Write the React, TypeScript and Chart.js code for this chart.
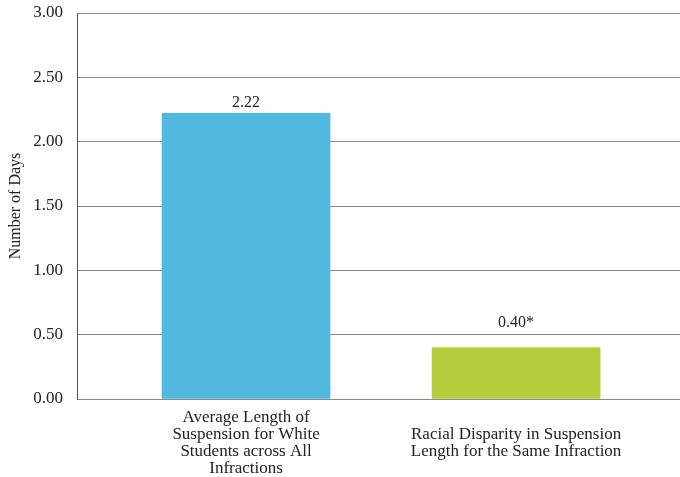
import React, { useEffect, useRef } from "react";
import { Chart, registerables } from "chart.js";

Chart.register(...registerables);

// Categories (multi-line axis labels)
const categories: string[][] = [
  ["Average Length of", "Suspension for White", "Students across All", "Infractions"],
  ["Racial Disparity in Suspension", "Length for the Same Infraction"],
];

// Number of days
const values: number[] = [2.22, 0.4];
// Footnote marks appended to the value labels
const valueMarks: string[] = ["", "*"];
const barColors: string[] = ["#51B9E0", "#B5CC3B"];

// Y-axis ticks
const yTicks: number[] = [0, 0.5, 1, 1.5, 2, 2.5, 3];

const FONT = "'Liberation Serif', 'DejaVu Serif', serif";

const valueLabelPlugin = {
  id: "valueLabels",
  afterDatasetsDraw(chart: any) {
    const meta = chart.getDatasetMeta(0);
    const ctx = chart.ctx;
    const gaps = [11, 25];
    ctx.save();
    ctx.font = `16px ${FONT}`;
    ctx.fillStyle = "#222";
    ctx.textAlign = "center";
    ctx.textBaseline = "middle";
    meta.data.forEach((bar: any, i: number) => {
      const text = values[i].toFixed(2) + valueMarks[i];
      ctx.fillText(text, bar.x, bar.y - gaps[i]);
    });
    ctx.restore();
  },
};

export default function App() {
  const canvasRef = useRef<HTMLCanvasElement | null>(null);

  useEffect(() => {
    if (!canvasRef.current) return;
    const chart = new Chart(canvasRef.current, {
      type: "bar",
      data: {
        datasets: [
          {
            data: values.map((v, i) => ({ x: i, y: v })),
            backgroundColor: barColors,
            borderWidth: 0,
            barThickness: 168,
          },
        ],
      },
      options: {
        responsive: false,
        animation: false,
        devicePixelRatio: 1,
        layout: { padding: { top: 13, right: 0, left: 0, bottom: 0 } },
        plugins: {
          legend: { display: false },
          tooltip: { enabled: false },
        },
        scales: {
          x: {
            type: "linear",
            offset: false,
            min: -0.626,
            max: 1.607,
            grid: { display: false, drawTicks: false, offset: false },
            border: { display: false },
            afterBuildTicks: (scale: any) => {
              scale.ticks = categories.map((_, i) => ({ value: i }));
            },
            afterFit: (scale: any) => {
              scale.height = 78;
              scale.paddingLeft = 0;
              scale.paddingRight = 0;
            },
            ticks: {
              padding: 19,
              maxRotation: 0,
              autoSkip: false,
              crossAlign: "center",
              color: "#222",
              font: { family: FONT, size: 17, lineHeight: 1.0 },
              callback: (v: any) => categories[Number(v)] ?? "",
            },
          },
          y: {
            min: 0,
            max: 3,
            afterBuildTicks: (scale: any) => {
              scale.ticks = yTicks.map((v) => ({ value: v }));
            },
            afterFit: (scale: any) => {
              scale.width = 77;
              scale.paddingTop = 0;
              scale.paddingBottom = 0;
            },
            grid: {
              color: "#8a8a8a",
              lineWidth: 1,
              drawTicks: false,
            },
            border: { display: true, color: "#555", width: 1 },
            ticks: {
              padding: 14,
              color: "#222",
              font: { family: FONT, size: 17 },
              callback: (v: any) => Number(v).toFixed(2),
            },
            title: {
              display: true,
              text: "Number of Days",
              color: "#222",
              font: { family: FONT, size: 16 },
              padding: { top: 6, bottom: 0 },
            },
          },
        },
      },
      plugins: [valueLabelPlugin],
    });
    return () => chart.destroy();
  }, []);

  return (
    <div style={{ position: "fixed", left: 0, top: 0, width: 680, height: 477, background: "#fff" }}>
      <canvas ref={canvasRef} width={680} height={477} style={{ display: "block" }} />
    </div>
  );
}
